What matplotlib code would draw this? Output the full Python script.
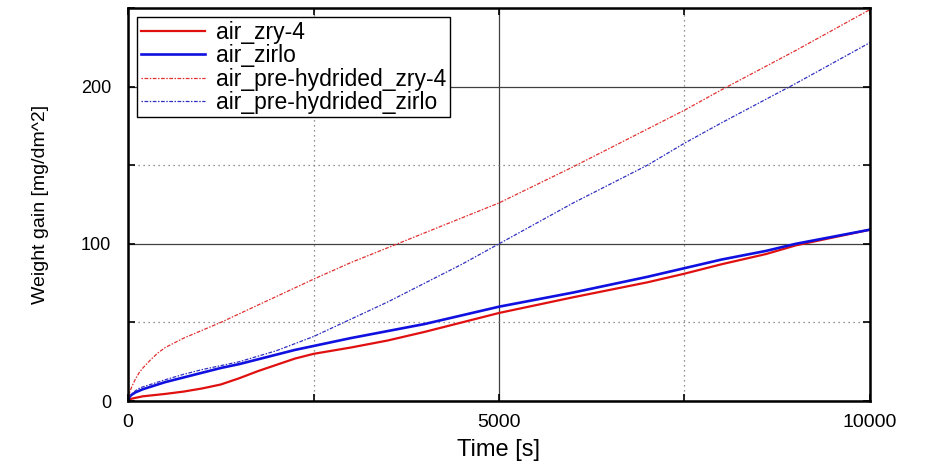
import matplotlib
matplotlib.use('Agg')
import matplotlib.pyplot as plt

plt.rcParams['font.family'] = ['Liberation Sans', 'DejaVu Sans']

# time points [s]
t = [0, 25, 50, 100, 150, 200, 300, 400, 500, 750, 1000, 1250, 1500, 1750,
     2000, 2250, 2500, 3000, 3500, 4000, 4500, 5000, 6000, 7000, 7500, 8000,
     8600, 9000, 10000]

# weight gain [mg/dm^2]
air_zry4 = [0, 1, 1.5, 2, 2.5, 3, 3.5, 4, 4.5, 6, 8, 10.5, 14.5, 19,
            23, 27, 30, 34, 38.5, 44, 50, 56, 66, 75.5, 81, 87,
            93.5, 99, 109]
air_zirlo = [0, 3, 4, 5.5, 6.5, 7.5, 9, 10.5, 12, 15, 18, 21, 23.5, 26.5,
             29.5, 32.5, 35, 40, 44.5, 49, 54.5, 60, 69, 79, 84.5, 90,
             95.5, 100, 109]
air_pre_zry4 = [0, 6, 9, 14, 18, 21, 26, 30.5, 34, 40, 45, 50, 55.5, 61,
                66.5, 72, 77.5, 88, 97.5, 107, 116.5, 126, 149, 173, 185, 198,
                213, 223, 249]
air_pre_zirlo = [0, 3, 4.5, 6.5, 8, 9, 10.5, 12, 13.5, 17, 20, 22.5, 25, 28.5,
                 32, 36.5, 41, 52, 63, 75, 87, 100, 126, 150, 164, 177,
                 192, 202, 228]

labels = ['air_zry-4', 'air_zirlo', 'air_pre-hydrided_zry-4', 'air_pre-hydrided_zirlo']

fig = plt.figure(figsize=(9.25, 4.72), dpi=100)
ax = fig.add_axes([0.1384, 0.1504, 0.8021, 0.8326])

ax.plot(t, air_zry4, color='#e01010', lw=1.6, label=labels[0])
ax.plot(t, air_zirlo, color='#1010e0', lw=1.9, label=labels[1])
ax.plot(t, air_pre_zry4, color='#e03030', lw=0.9, ls=(0, (1.2, 1.2, 3, 1.2)), label=labels[2])
ax.plot(t, air_pre_zirlo, color='#3030c0', lw=0.9, ls=(0, (1.2, 1.2, 3, 1.2)), label=labels[3])

ax.set_xlim(0, 10000)
ax.set_ylim(0, 250)
ax.set_xticks([0, 5000, 10000])
ax.set_xticks([2500, 7500], minor=True)
ax.set_yticks([0, 100, 200])
ax.set_yticks([50, 150, 250], minor=True)

ax.grid(which='major', color='#404040', ls='-', lw=0.9)
ax.grid(which='minor', color='#707070', ls=(0, (1, 3)), lw=0.9)
ax.set_axisbelow(True)

ax.tick_params(which='both', direction='in', top=True, right=True, length=5, width=1.2)
ax.tick_params(axis='x', labelsize=14, pad=9)
ax.tick_params(axis='y', labelsize=13, pad=12)
for s in ax.spines.values():
    s.set_linewidth(1.8)

ax.set_xlabel('Time [s]', fontsize=17, labelpad=6)
ax.set_ylabel('Weight gain [mg/dm^2]', fontsize=14)
ax.yaxis.set_label_coords(-0.106, 0.5)

leg = ax.legend(loc='upper left', fontsize=16.5, handlelength=2.8, labelspacing=0.02,
                borderpad=0.15, handletextpad=0.5, borderaxespad=0.4,
                fancybox=False, framealpha=1, edgecolor='black')
leg.get_frame().set_linewidth(1.0)

fig.savefig('out.png', dpi=100)
